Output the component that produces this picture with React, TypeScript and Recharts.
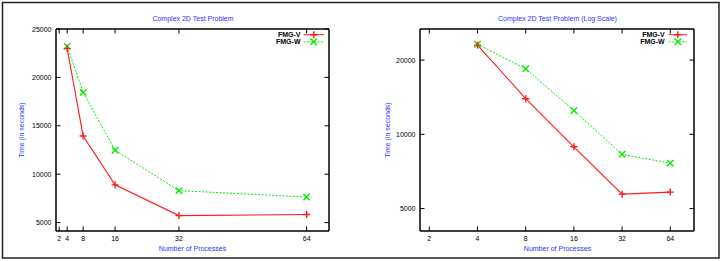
import { LineChart, Line, XAxis, YAxis } from 'recharts'

// measured run times (seconds) for each process count
const processes = [4, 8, 16, 32, 64]
const fmgV = [23000, 13950, 8900, 5720, 5830]
const fmgW = [23200, 18450, 12480, 8300, 7640]

const xTicks = [2, 4, 8, 16, 32, 64]
const yTicksLinear = [5000, 10000, 15000, 20000, 25000]
const yTicksLog = [5000, 10000, 20000]

const seriesNames = ['FMG-V', 'FMG-W']
const titles = ['Complex 2D Test Problem', 'Complex 2D Test Problem (Log Scale)']
const xLabel = 'Number of Processes'
const yLabel = 'Time (in seconds)'

const data = processes.map((p, i) => ({ p, v: fmgV[i], w: fmgW[i] }))

const FONT = '"Liberation Sans", Arial, sans-serif'
const BLUE = '#2f2fff'
const RED = '#ff1a1a'
const GREEN = '#00ee00'
const TL = 4.5

function Plus({ cx, cy, color, r = 3.5 }: any) {
  return (
    <path
      d={`M${cx - r},${cy}H${cx + r}M${cx},${cy - r}V${cy + r}`}
      stroke={color}
      strokeWidth={1.4}
      fill="none"
    />
  )
}

function Cross({ cx, cy, color, r = 3.2 }: any) {
  return (
    <path
      d={`M${cx - r},${cy - r}L${cx + r},${cy + r}M${cx - r},${cy + r}L${cx + r},${cy - r}`}
      stroke={color}
      strokeWidth={1.4}
      fill="none"
    />
  )
}

function BottomTick({ x, y, payload }: any) {
  return (
    <g>
      <line x1={x} y1={y} x2={x} y2={y - TL} stroke="#000" />
      <text x={x} y={y + 10} textAnchor="middle" fontSize={7} fontFamily={FONT} fill="#000">
        {payload.value}
      </text>
    </g>
  )
}

function TopTick({ x, y }: any) {
  return <line x1={x} y1={y} x2={x} y2={y + TL} stroke="#000" />
}

function LeftTick({ x, y, payload }: any) {
  return (
    <g>
      <line x1={x} y1={y} x2={x + TL} y2={y} stroke="#000" />
      <text x={x - 4.5} y={y + 2.5} textAnchor="end" fontSize={7} fontFamily={FONT} fill="#000">
        {payload.value}
      </text>
    </g>
  )
}

function RightTick({ x, y }: any) {
  return <line x1={x} y1={y} x2={x - TL} y2={y} stroke="#000" />
}

interface PanelProps {
  log: boolean
  left: number
  width: number
  margin: { top: number; right: number; bottom: number; left: number }
  xDomain: [number, number]
  yDomain: [number, number]
}

function Panel({ log, left, width, margin, xDomain, yDomain }: PanelProps) {
  const scale = log ? 'log' : 'linear'
  const yTicks = log ? yTicksLog : yTicksLinear
  const frame = { stroke: '#000', strokeWidth: 1.5 }
  return (
    <div style={{ position: 'absolute', left, top: 0 }}>
      <LineChart width={width} height={261} data={data} margin={margin}>
        <XAxis
          xAxisId="b"
          dataKey="p"
          type="number"
          scale={scale}
          domain={xDomain}
          allowDataOverflow
          ticks={xTicks}
          interval={0}
          height={20}
          tickSize={0}
          tickMargin={0}
          tickLine={false}
          axisLine={frame}
          tick={<BottomTick />}
        />
        <XAxis
          xAxisId="t"
          orientation="top"
          dataKey="p"
          type="number"
          scale={scale}
          domain={xDomain}
          allowDataOverflow
          ticks={xTicks}
          interval={0}
          height={10}
          tickSize={0}
          tickMargin={0}
          tickLine={false}
          axisLine={frame}
          tick={<TopTick />}
        />
        <YAxis
          yAxisId="l"
          type="number"
          scale={scale}
          domain={yDomain}
          allowDataOverflow
          ticks={yTicks}
          interval={0}
          width={50}
          tickSize={0}
          tickMargin={0}
          tickLine={false}
          axisLine={frame}
          tick={<LeftTick />}
        />
        <YAxis
          yAxisId="r"
          orientation="right"
          type="number"
          scale={scale}
          domain={yDomain}
          allowDataOverflow
          ticks={yTicks}
          interval={0}
          width={10}
          tickSize={0}
          tickMargin={0}
          tickLine={false}
          axisLine={frame}
          tick={<RightTick />}
        />
        <Line
          xAxisId="b"
          yAxisId="l"
          type="linear"
          dataKey="w"
          name={seriesNames[1]}
          stroke={GREEN}
          strokeWidth={1}
          strokeDasharray="2 1.5"
          isAnimationActive={false}
          activeDot={false}
          dot={(p: any) => <Cross key={`w${p.index}`} cx={p.cx} cy={p.cy} color={GREEN} />}
        />
        <Line
          xAxisId="b"
          yAxisId="l"
          type="linear"
          dataKey="v"
          name={seriesNames[0]}
          stroke={RED}
          strokeWidth={1.1}
          isAnimationActive={false}
          activeDot={false}
          dot={(p: any) => <Plus key={`v${p.index}`} cx={p.cx} cy={p.cy} color={RED} />}
        />
      </LineChart>
    </div>
  )
}

function LegendBlock({ textEnd, lineStart, lineEnd }: { textEnd: number; lineStart: number; lineEnd: number }) {
  const mid = (lineStart + lineEnd) / 2
  const rows = [34.7, 41.8]
  return (
    <g>
      {seriesNames.map((name, i) => (
        <g key={name}>
          <text
            x={textEnd}
            y={rows[i] + 2.5}
            textAnchor="end"
            fontSize={7}
            fontWeight="bold"
            fontFamily={FONT}
            fill="#000"
          >
            {name}
          </text>
          <line
            x1={lineStart}
            y1={rows[i]}
            x2={lineEnd}
            y2={rows[i]}
            stroke={i === 0 ? RED : GREEN}
            strokeDasharray={i === 0 ? undefined : '2 1.5'}
          />
          {i === 0 ? (
            <Plus cx={mid} cy={rows[i]} color={RED} />
          ) : (
            <Cross cx={mid} cy={rows[i]} color={GREEN} />
          )}
        </g>
      ))}
    </g>
  )
}

export default function App() {
  const textProps = { fontSize: 7, fontFamily: FONT, fill: BLUE, textAnchor: 'middle' as const }
  return (
    <div style={{ position: 'absolute', left: 0, top: 0, width: 723, height: 261, background: '#fff' }}>
      <Panel
        log={false}
        left={0}
        width={362}
        margin={{ top: 19, right: 23, bottom: 10, left: 6 }}
        xDomain={[1.2, 69.6]}
        yDomain={[4130, 25000]}
      />
      <Panel
        log
        left={362}
        width={361}
        margin={{ top: 19, right: 19, bottom: 10, left: 8 }}
        xDomain={[1.75, 90]}
        yDomain={[4055, 26740]}
      />
      <svg
        width={723}
        height={261}
        style={{ position: 'absolute', left: 0, top: 0, pointerEvents: 'none' }}
      >
        <rect x={2.5} y={2.5} width={716.5} height={255.5} fill="none" stroke="#222" strokeWidth={1.5} />
        <text x={193} y={20.5} {...textProps}>{titles[0]}</text>
        <text x={557.5} y={20.5} {...textProps}>{titles[1]}</text>
        <text x={192.5} y={250.8} {...textProps}>{xLabel}</text>
        <text x={557.5} y={250.8} {...textProps}>{xLabel}</text>
        <text transform="translate(23.5,130) rotate(-90)" {...textProps}>{yLabel}</text>
        <text transform="translate(389.5,130) rotate(-90)" {...textProps}>{yLabel}</text>
        <LegendBlock textEnd={300.5} lineStart={303.5} lineEnd={324} />
        <LegendBlock textEnd={664.7} lineStart={668.7} lineEnd={687} />
      </svg>
    </div>
  )
}
